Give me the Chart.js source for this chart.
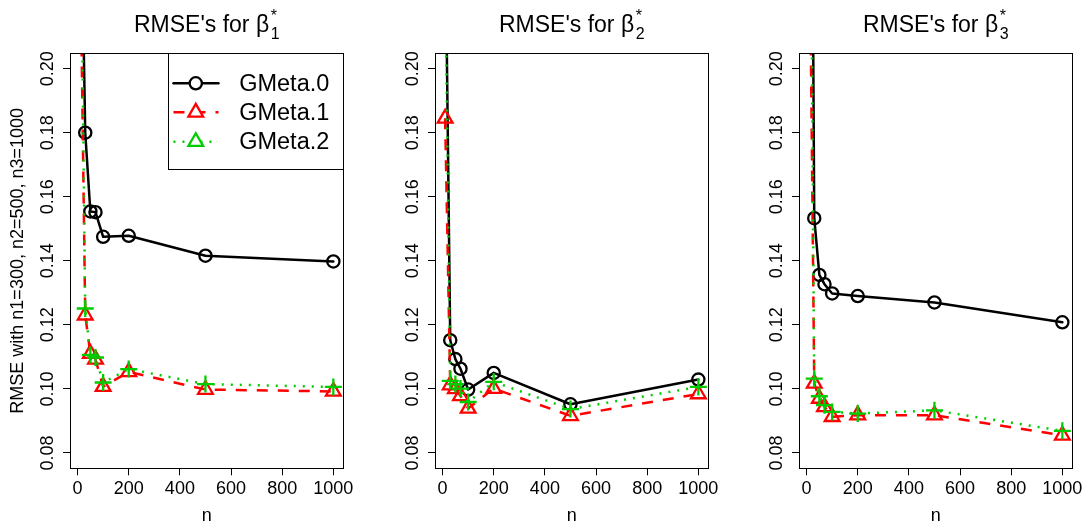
<!DOCTYPE html>
<html>
<head>
<meta charset="utf-8">
<script src="https://cdn.jsdelivr.net/npm/chart.js@4.4.0/dist/chart.umd.min.js"></script>
<style>
html,body{margin:0;padding:0;background:#fff;overflow:hidden;}
#wrap{position:relative;width:1086px;height:522px;overflow:hidden;background:#fff;}
canvas{position:absolute;top:0;}
</style>
</head>
<body>
<div id="wrap">
<canvas id="c1"></canvas>
<canvas id="c2"></canvas>
<canvas id="c3"></canvas>
</div>
<script>
// ---------------- data ----------------
const nValues = [10, 30, 50, 70, 100, 200, 500, 1000];
const xTicks = [0, 200, 400, 600, 800, 1000];
const xTickLabels = ["0", "200", "400", "600", "800", "1000"];
const yTicks = [0.08, 0.10, 0.12, 0.14, 0.16, 0.18, 0.20];
const yTickLabels = ["0.08", "0.10", "0.12", "0.14", "0.16", "0.18", "0.20"];
const seriesNames = ["GMeta.0", "GMeta.1", "GMeta.2"];
const titleMain = "RMSE's for \u03B2";
const titleSup = "*";
const titleSubs = ["1", "2", "3"];
const yAxisTitle = "RMSE with n1=300, n2=500, n3=1000";
const xAxisTitle = "n";

const beta1_GMeta0 = [0.27, 0.1800, 0.1554, 0.1552, 0.1475, 0.1478, 0.1416, 0.1398];
const beta1_GMeta1 = [0.24, 0.1230, 0.1110, 0.1092, 0.1007, 0.1053, 0.0998, 0.0992];
const beta1_GMeta2 = [0.27, 0.1251, 0.1106, 0.1098, 0.1020, 0.1062, 0.1015, 0.1006];

const beta2_GMeta0 = [0.25, 0.1152, 0.1093, 0.1063, 0.0998, 0.1050, 0.0952, 0.1029];
const beta2_GMeta1 = [0.1845, 0.1012, 0.1000, 0.0978, 0.0939, 0.1001, 0.0916, 0.0984];
const beta2_GMeta2 = [0.235, 0.1025, 0.1015, 0.1001, 0.0959, 0.1022, 0.0937, 0.1006];

const beta3_GMeta0 = [0.42, 0.1533, 0.1356, 0.1327, 0.1298, 0.1290, 0.1270, 0.1208];
const beta3_GMeta1 = [0.26, 0.1017, 0.0970, 0.0944, 0.0913, 0.0918, 0.0918, 0.0855];
const beta3_GMeta2 = [0.33, 0.1032, 0.0977, 0.0949, 0.0928, 0.0923, 0.0933, 0.0869];

const panels = [
  [beta1_GMeta0, beta1_GMeta1, beta1_GMeta2],
  [beta2_GMeta0, beta2_GMeta1, beta2_GMeta2],
  [beta3_GMeta0, beta3_GMeta1, beta3_GMeta2]
];

// ---------------- layout / style ----------------
const FONT = "'Liberation Sans', Arial, Helvetica, sans-serif";
const PANEL_LEFT = [70, 434.5, 799.3];
const PLOT_W = 275.3;
const PLOT_TOP = 53.3, PLOT_BOTTOM = 468.3;
const CANVAS_W = 357, CANVAS_H = 540;
const Y_AXIS_W = 70;
const X_MIN = 10 - 0.04 * 990, X_MAX = 1000 + 0.04 * 990;
const Y_MIN = 0.08 - 0.04 * 0.12, Y_MAX = 0.20 + 0.04 * 0.12;

const styles = [
  {color: '#000000', dash: [], cap: 'round', point: 'circle', radius: 6.1, legendPoint: 'circle'},
  {color: '#FF0000', dash: [11, 10], cap: 'butt', point: 'triangle', radius: 8.5, legendPoint: 'triangle'},
  {color: '#00CD00', dash: [2, 7], cap: 'butt', point: 'cross', radius: 8.5, legendPoint: 'triangle'}
];

function toPoints(xs, ys) { return xs.map((x, i) => ({x: x, y: ys[i]})); }

const boxPlugin = {
  id: 'rbox',
  afterDraw(chart) {
    const {ctx, chartArea: a} = chart;
    ctx.save();
    ctx.strokeStyle = '#000';
    ctx.lineWidth = 1;
    ctx.setLineDash([]);
    ctx.strokeRect(Math.round(a.left) + 0.5, Math.round(a.top) + 0.5,
      Math.round(a.right - a.left), Math.round(a.bottom - a.top));
    ctx.restore();
  }
};

function titlePlugin(sub) {
  return {
    id: 'rtitle',
    afterDraw(chart) {
      const {ctx, chartArea: a} = chart;
      ctx.save();
      ctx.fillStyle = '#000';
      ctx.textBaseline = 'alphabetic';
      ctx.textAlign = 'left';
      ctx.font = '23px ' + FONT;
      const W = ctx.measureText(titleMain).width;
      ctx.font = '16px ' + FONT;
      const w = Math.max(ctx.measureText(sub).width, ctx.measureText(titleSup).width);
      const gap = 1.5;
      const x0 = (a.left + a.right) / 2 - (W + gap + w) / 2;
      ctx.font = '23px ' + FONT;
      ctx.fillText(titleMain, x0, 32.3);
      ctx.font = '16px ' + FONT;
      ctx.fillText(titleSup, x0 + W + gap, 20.5);
      ctx.fillText(sub, x0 + W + gap, 39);
      ctx.restore();
    }
  };
}

function drawMarker(ctx, style, x, y, r, fill) {
  ctx.beginPath();
  if (style === 'circle') {
    ctx.arc(x, y, r, 0, Math.PI * 2);
  } else if (style === 'triangle') {
    ctx.moveTo(x, y - r);
    ctx.lineTo(x + r * Math.sin(2 * Math.PI / 3), y - r * Math.cos(2 * Math.PI / 3));
    ctx.lineTo(x + r * Math.sin(4 * Math.PI / 3), y - r * Math.cos(4 * Math.PI / 3));
    ctx.closePath();
  }
  if (fill) { ctx.fillStyle = fill; ctx.fill(); }
  ctx.stroke();
}

const legendPlugin = {
  id: 'rlegend',
  afterDraw(chart) {
    const {ctx, chartArea: a} = chart;
    const bw = 175, bh = 115.7;
    const bx = a.right - bw, by = a.top;
    ctx.save();
    ctx.fillStyle = '#fff';
    ctx.fillRect(bx, by, bw, bh);
    ctx.strokeStyle = '#000';
    ctx.lineWidth = 1;
    ctx.strokeRect(Math.round(bx) + 0.5, Math.round(by) + 0.5, Math.round(bw), Math.round(bh));
    const rows = [30, 59, 88.4];
    chart.data.datasets.forEach((ds) => {
      const st = styles[ds.seriesIndex];
      const y = by + rows[ds.seriesIndex];
      ctx.strokeStyle = st.color;
      ctx.lineWidth = 2.5;
      ctx.lineCap = st.cap;
      ctx.setLineDash(st.dash);
      ctx.beginPath();
      ctx.moveTo(bx + 5, y);
      ctx.lineTo(bx + 50, y);
      ctx.stroke();
      ctx.setLineDash([]);
      ctx.lineWidth = 2.3;
      drawMarker(ctx, st.legendPoint, bx + 27.3, y, st.legendPoint === 'circle' ? st.radius : 8.5, '#fff');
      ctx.fillStyle = '#000';
      ctx.font = '23.5px ' + FONT;
      ctx.textAlign = 'left';
      ctx.textBaseline = 'middle';
      ctx.fillText(ds.label, bx + 70.7, y + 1);
    });
    ctx.restore();
  }
};

function makePanel(idx) {
  const canvas = document.getElementById('c' + (idx + 1));
  canvas.width = CANVAS_W;
  canvas.height = CANVAS_H;
  canvas.style.width = CANVAS_W + 'px';
  canvas.style.height = CANVAS_H + 'px';
  canvas.style.left = (PANEL_LEFT[idx] - Y_AXIS_W) + 'px';
  const rightPad = CANVAS_W - Y_AXIS_W - PLOT_W;

  const datasets = panels[idx].map((vals, s) => {
    const st = styles[s];
    return {
      label: seriesNames[s],
      seriesIndex: s,
      data: toPoints(nValues, vals),
      borderColor: st.color,
      borderWidth: 2.5,
      borderDash: st.dash,
      borderCapStyle: st.cap,
      borderJoinStyle: 'round',
      tension: 0,
      fill: false,
      pointStyle: st.point,
      pointRadius: st.radius,
      pointBorderWidth: 2.3,
      pointBorderColor: st.color,
      pointBackgroundColor: 'rgba(0,0,0,0)',
      pointHoverRadius: st.radius,
      clip: 0,
      order: 2 - s
    };
  });

  const plugins = [boxPlugin, titlePlugin(titleSubs[idx])];
  if (idx === 0) plugins.push(legendPlugin);

  return new Chart(canvas, {
    type: 'line',
    data: {datasets: datasets},
    plugins: plugins,
    options: {
      responsive: false,
      animation: false,
      events: [],
      layout: {padding: {left: 0, right: rightPad, top: PLOT_TOP, bottom: 0}},
      plugins: {legend: {display: false}, title: {display: false}, tooltip: {enabled: false}},
      scales: {
        x: {
          type: 'linear',
          min: X_MIN,
          max: X_MAX,
          afterBuildTicks: (sc) => { sc.ticks = xTicks.map(v => ({value: v})); },
          afterFit: (sc) => { sc.height = CANVAS_H - PLOT_BOTTOM; },
          grid: {display: true, drawOnChartArea: false, drawTicks: true, tickLength: 7, color: '#000', lineWidth: 1},
          border: {display: false},
          ticks: {
            autoSkip: false, maxRotation: 0, minRotation: 0, padding: 3.2,
            color: '#000', font: {family: FONT, size: 18},
            callback: (v) => { const k = xTicks.indexOf(v); return k >= 0 ? xTickLabels[k] : ''; }
          },
          title: {display: true, text: xAxisTitle, color: '#000', font: {family: FONT, size: 18}, padding: {top: 0, bottom: 13.1}}
        },
        y: {
          type: 'linear',
          min: Y_MIN,
          max: Y_MAX,
          afterBuildTicks: (sc) => { sc.ticks = yTicks.map(v => ({value: v})); },
          afterFit: (sc) => { sc.width = Y_AXIS_W; },
          grid: {display: true, drawOnChartArea: false, drawTicks: true, tickLength: 7, color: '#000', lineWidth: 1},
          border: {display: false},
          ticks: {
            autoSkip: false, minRotation: 90, maxRotation: 90, crossAlign: 'center', padding: -2.8,
            color: '#000', font: {family: FONT, size: 18},
            callback: (v) => { const k = yTicks.findIndex(t => Math.abs(t - v) < 1e-9); return k >= 0 ? yTickLabels[k] : ''; }
          },
          title: {display: idx === 0, text: yAxisTitle, color: '#000', font: {family: FONT, size: 18}, padding: {top: 7.5, bottom: 0}}
        }
      }
    }
  });
}

[0, 1, 2].forEach(makePanel);
</script>
</body>
</html>
